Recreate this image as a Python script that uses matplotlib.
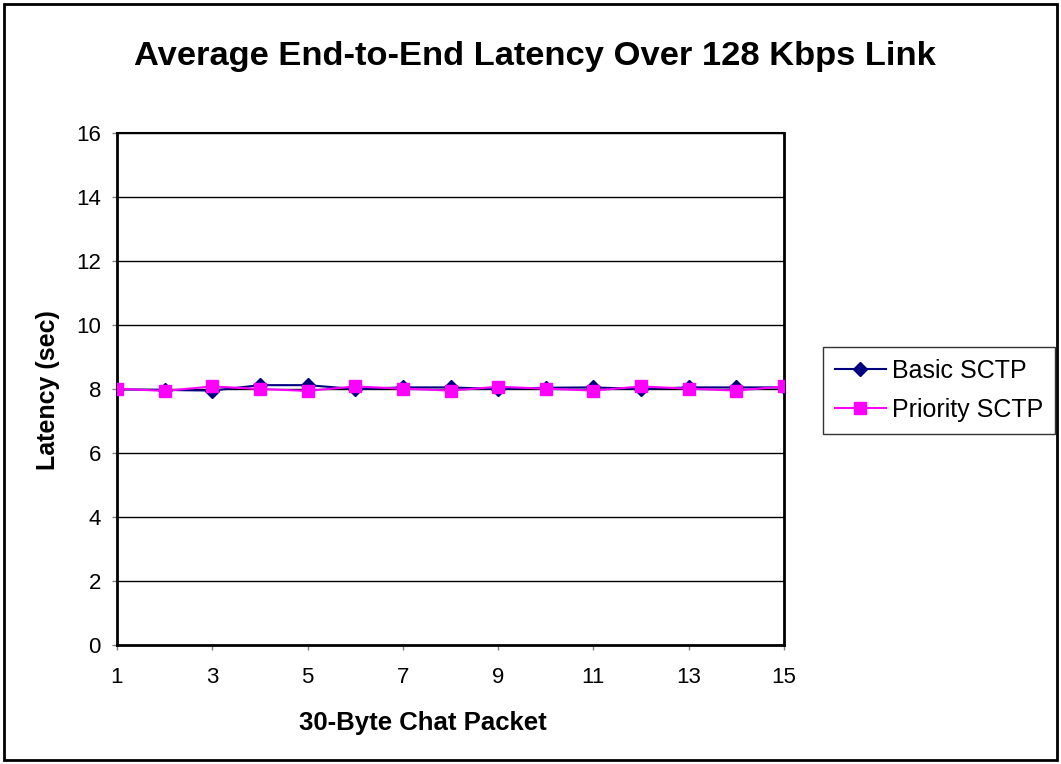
import numpy as np
import matplotlib
matplotlib.use('Agg')
import matplotlib.pyplot as plt
from matplotlib.patches import Rectangle

plt.rcParams['font.family'] = ['Liberation Sans', 'DejaVu Sans']

# chat packet index
packets = list(range(1, 16))
basic_sctp = [7.99, 7.97, 7.95, 8.12, 8.12, 8.0, 8.05, 8.05, 8.0, 8.04, 8.05, 8.0, 8.05, 8.05, 8.05]
priority_sctp = [8.01, 7.94, 8.08, 8.0, 7.94, 8.08, 8.01, 7.95, 8.07, 8.01, 7.95, 8.08, 8.01, 7.95, 8.08]
xticks = [1, 3, 5, 7, 9, 11, 13, 15]
yticks = [0, 2, 4, 6, 8, 10, 12, 14, 16]

W, H = 1061, 764
fig = plt.figure(figsize=(W / 100, H / 100), dpi=100)
ax = fig.add_axes([117 / W, 1 - 645 / H, (784 - 117) / W, (645 - 133) / H])

ax.plot(packets, basic_sctp, color='#000080', lw=1.5, marker='D', ms=7,
        label='Basic SCTP', zorder=3)
ax.plot(packets, priority_sctp, color='#FF00FF', lw=1.5, marker='s', ms=8.5,
        label='Priority SCTP', zorder=4)

ax.set_xlim(1, 15)
ax.set_ylim(0, 16)
ax.set_xticks(xticks)
ax.set_yticks(yticks)
ax.tick_params(axis='both', direction='out', length=3.6, width=1, color='#808080',
               labelsize=16, pad=8)
ax.tick_params(axis='x', pad=12)
for y in yticks[1:]:
    ax.axhline(y, color='black', lw=1, zorder=1)
for side in ['left', 'bottom', 'right']:
    ax.spines[side].set_linewidth(2)
ax.spines['top'].set_linewidth(1.5)

fig.text(48 / W, 1 - 390 / H, 'Latency (sec)', rotation=90, ha='center', va='center',
         fontsize=18, fontweight='bold')
fig.text(423 / W, 1 - 723 / H, '30-Byte Chat Packet', ha='center', va='center',
         fontsize=18.5, fontweight='bold')
fig.text(535 / W, 1 - 57 / H, 'Average End-to-End Latency Over 128 Kbps Link',
         ha='center', va='center', fontsize=24.8, fontweight='bold')

leg = fig.legend(loc='upper left', bbox_to_anchor=(823 / W, 1 - 347 / H),
                 fontsize=18, frameon=True, fancybox=False, edgecolor='black',
                 handlelength=2.05, handletextpad=0.25, borderpad=0.46,
                 labelspacing=0.62, borderaxespad=0)
leg.get_frame().set_linewidth(1)

fig.patches.append(Rectangle((4 / W, 4 / H), 1 - 8 / W, 1 - 8 / H,
                             transform=fig.transFigure, fill=False,
                             edgecolor='black', lw=2))

fig.savefig('out.png', dpi=100)
